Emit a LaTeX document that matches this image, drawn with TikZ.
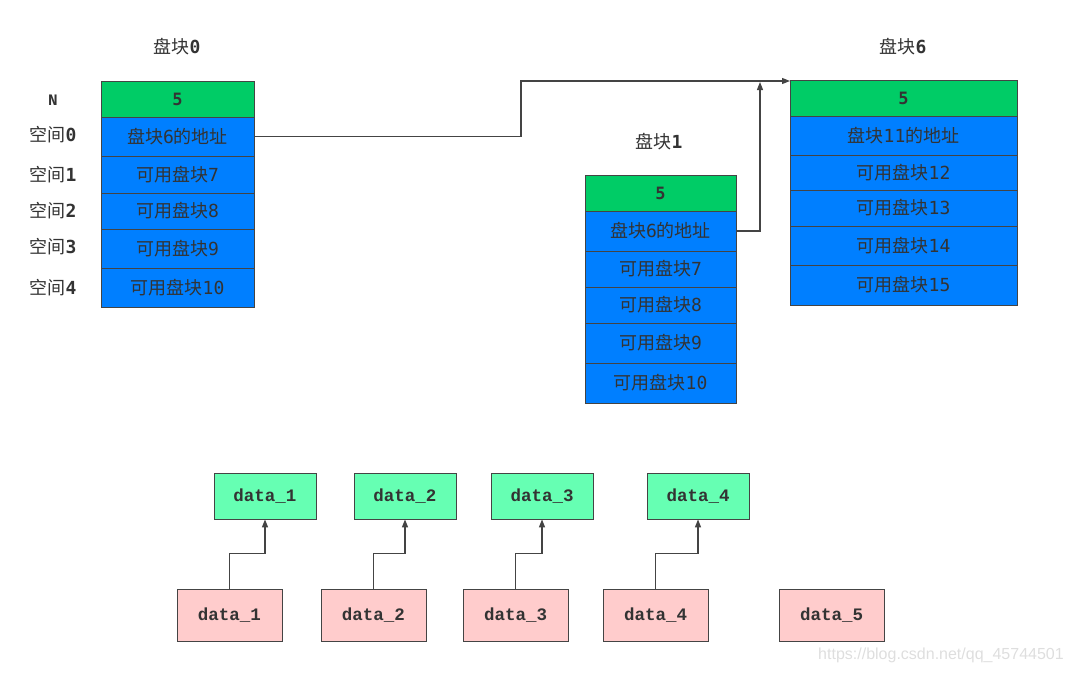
\documentclass[tikz,border=0pt]{standalone}
\usepackage{fontspec}
\newfontfamily\cjk{Noto Sans CJK SC}
\newfontfamily\mono{Liberation Mono}
\newfontfamily\dmono{DejaVu Sans Mono}
\newfontfamily\wm{Liberation Sans}
\newcommand\dg[1]{{\dmono #1}}
\newcommand\dgb[1]{{\dmono\bfseries #1}}
\usetikzlibrary{arrows.meta}
\definecolor{hdgreen}{RGB}{0,204,102}
\definecolor{rowblue}{RGB}{0,127,255}
\definecolor{txt}{RGB}{51,51,51}
\definecolor{lgreen}{RGB}{102,255,179}
\definecolor{lpink}{RGB}{255,204,204}
\definecolor{edge}{RGB}{68,68,68}
\tikzset{
  cell/.style={draw=edge, line width=0.8pt, inner sep=0pt, text=txt, font=\cjk\fontsize{18}{20}\selectfont},
  hdcell/.style={cell, fill=hdgreen, font=\dmono\bfseries\fontsize{17}{20}\selectfont},
  bluecell/.style={cell, fill=rowblue},
  lab/.style={text=txt, inner sep=0pt, font=\cjk\fontsize{18}{20}\selectfont},
  databox/.style={draw=edge, line width=0.8pt, inner sep=0pt, text=txt, minimum width=102pt, minimum height=46pt, font=\mono\bfseries\fontsize{17.5}{20}\selectfont},
  topbox/.style={databox, fill=lgreen},
  botbox/.style={databox, fill=lpink, minimum width=105pt, minimum height=52pt},
  conn/.style={draw=edge, line width=1.3pt, -{Triangle[length=8pt,width=6pt]}}
}
\begin{document}
\begin{tikzpicture}[x=1pt,y=-1pt]
\useasboundingbox (0,0) rectangle (1071,673);
% block 0
\node[lab] (t0) at (177,47) {盘块\dgb{0}};
\node[hdcell, minimum width=153pt, minimum height=36pt] (a0) at (177.5,99) {5};
\node[bluecell, minimum width=153pt, minimum height=39pt] (a1) at (177.5,136.5) {盘块\dg{6}的地址};
\node[bluecell, minimum width=153pt, minimum height=37pt] (a2) at (177.5,174.5) {可用盘块\dg{7}};
\node[bluecell, minimum width=153pt, minimum height=36pt] (a3) at (177.5,211) {可用盘块\dg{8}};
\node[bluecell, minimum width=153pt, minimum height=39pt] (a4) at (177.5,248.5) {可用盘块\dg{9}};
\node[bluecell, minimum width=153pt, minimum height=39pt] (a5) at (177.5,287.5) {可用盘块\dg{10}};
\node[lab, font=\mono\bfseries\fontsize{16}{18}\selectfont] (ln) at (53,100) {N};
\node[lab] (l0) at (53,135) {空间\dgb{0}};
\node[lab] (l1) at (53,175) {空间\dgb{1}};
\node[lab] (l2) at (53,211) {空间\dgb{2}};
\node[lab] (l3) at (53,247) {空间\dgb{3}};
\node[lab] (l4) at (53,288) {空间\dgb{4}};
% block 1
\node[lab] (t1) at (659,142) {盘块\dgb{1}};
\node[hdcell, minimum width=151pt, minimum height=36pt] (b0) at (660.5,193) {5};
\node[bluecell, minimum width=151pt, minimum height=40pt] (b1) at (660.5,231) {盘块\dg{6}的地址};
\node[bluecell, minimum width=151pt, minimum height=36pt] (b2) at (660.5,269) {可用盘块\dg{7}};
\node[bluecell, minimum width=151pt, minimum height=36pt] (b3) at (660.5,305) {可用盘块\dg{8}};
\node[bluecell, minimum width=151pt, minimum height=40pt] (b4) at (660.5,343) {可用盘块\dg{9}};
\node[bluecell, minimum width=151pt, minimum height=40pt] (b5) at (660.5,383) {可用盘块\dg{10}};
% block 6
\node[lab] (t6) at (903,47) {盘块\dgb{6}};
\node[hdcell, minimum width=227pt, minimum height=36pt] (c0) at (903.5,98) {5};
\node[bluecell, minimum width=227pt, minimum height=39pt] (c1) at (903.5,135.5) {盘块\dg{11}的地址};
\node[bluecell, minimum width=227pt, minimum height=35pt] (c2) at (903.5,172.5) {可用盘块\dg{12}};
\node[bluecell, minimum width=227pt, minimum height=36pt] (c3) at (903.5,208) {可用盘块\dg{13}};
\node[bluecell, minimum width=227pt, minimum height=39pt] (c4) at (903.5,245.5) {可用盘块\dg{14}};
\node[bluecell, minimum width=227pt, minimum height=40pt] (c5) at (903.5,285) {可用盘块\dg{15}};
% pointer connectors
\coordinate (e6) at (790,81);
\coordinate (m6) at (760,82);
\draw[conn] (a1.east) -- (521,136.5) -- (521,81) -- (e6);
\draw[conn] (b1.east) -- (760,231) -- (m6);
% data boxes
\node[topbox] (g1) at (265,496) {data\_1};
\node[topbox] (g2) at (405,496) {data\_2};
\node[topbox] (g3) at (542,496) {data\_3};
\node[topbox] (g4) at (698,496) {data\_4};
\node[botbox] (p1) at (229.5,615) {data\_1};
\node[botbox] (p2) at (373.5,615) {data\_2};
\node[botbox] (p3) at (515.5,615) {data\_3};
\node[botbox] (p4) at (655.5,615) {data\_4};
\node[botbox] (p5) at (831.5,615) {data\_5};
\draw[conn] (p1.north) -- ++(0,-35) -| (g1.south);
\draw[conn] (p2.north) -- ++(0,-35) -| (g2.south);
\draw[conn] (p3.north) -- ++(0,-35) -| (g3.south);
\draw[conn] (p4.north) -- ++(0,-35) -| (g4.south);
% watermark
\node[text=black!13, inner sep=0pt, font=\wm\fontsize{16}{18}\selectfont] (wmk) at (941,655) {https://blog.csdn.net/qq\_45744501};
\end{tikzpicture}
\end{document}
